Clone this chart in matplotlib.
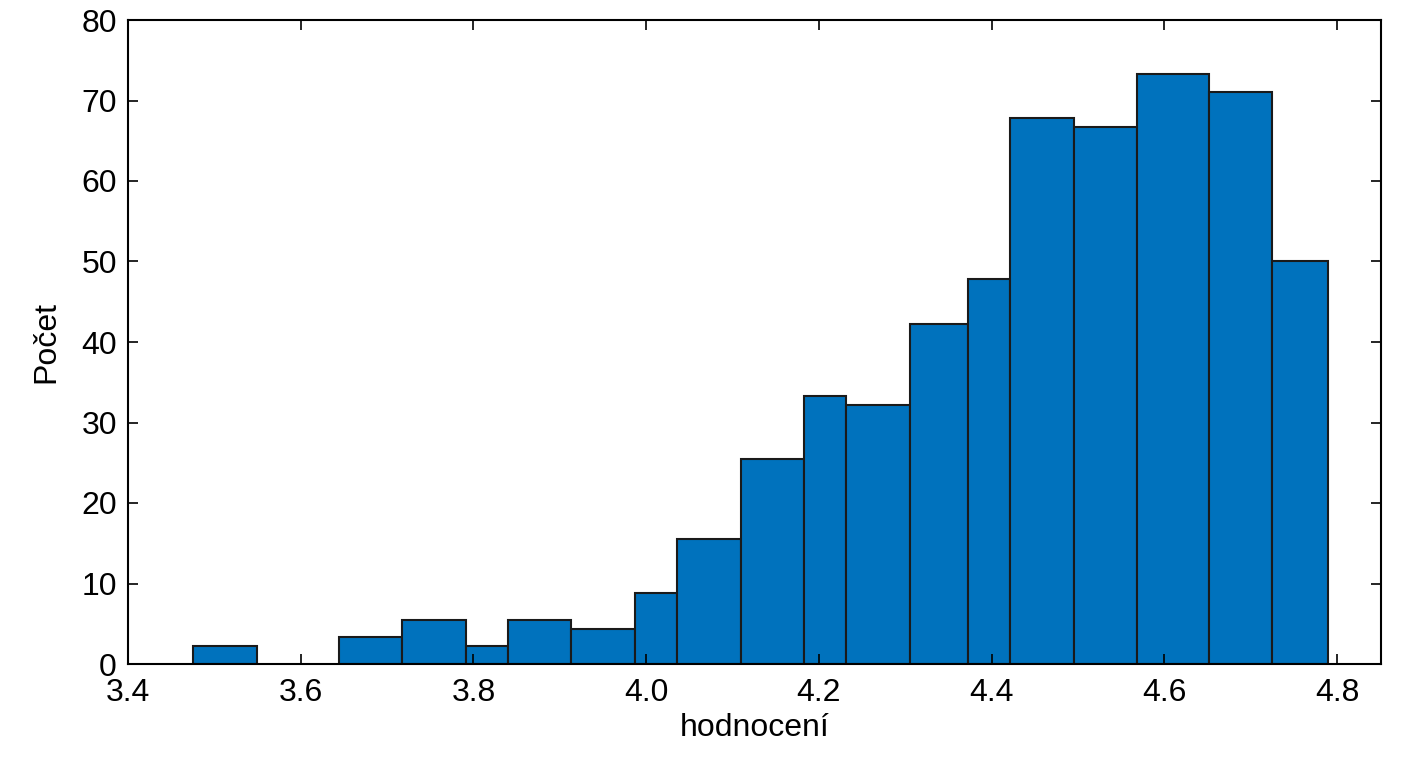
import matplotlib.pyplot as plt
import numpy as np

plt.rcParams['font.family'] = ['Liberation Sans', 'DejaVu Sans']

# bin edges (left, right) and counts
left_edges = [3.475, 3.644, 3.717, 3.791, 3.840, 3.913, 3.987, 4.036, 4.110, 4.183,
              4.232, 4.306, 4.373, 4.421, 4.495, 4.569, 4.652, 4.725]
right_edges = [3.549, 3.717, 3.791, 3.840, 3.913, 3.987, 4.036, 4.110, 4.183, 4.232,
               4.306, 4.373, 4.421, 4.495, 4.569, 4.652, 4.725, 4.790]
counts = [2.2, 3.3, 5.5, 2.2, 5.5, 4.4, 8.8, 15.5, 25.5, 33.3,
          32.2, 42.2, 47.8, 67.8, 66.7, 73.3, 71.1, 50.0]

fig = plt.figure(figsize=(14.08, 7.68), dpi=100)
ax = fig.add_axes([128 / 1408, 1 - 664 / 768, (1381 - 128) / 1408, (664 - 20) / 768])

widths = np.array(right_edges) - np.array(left_edges)
ax.bar(left_edges, counts, width=widths, align='edge', color='#0072bd',
       edgecolor='#1a1a1a', linewidth=1.5)

ax.set_xlim(3.405, 4.851)
ax.set_ylim(0, 80)
ax.set_xticks([3.4, 3.6, 3.8, 4.0, 4.2, 4.4, 4.6, 4.8])
ax.set_xticklabels(['3.4', '3.6', '3.8', '4.0', '4.2', '4.4', '4.6', '4.8'])
ax.set_yticks(range(0, 81, 10))
ax.tick_params(direction='in', top=True, right=True, labelsize=23, length=7, width=1.2)
ax.tick_params(axis='x', pad=10)
ax.tick_params(axis='y', pad=8)
for s in ax.spines.values():
    s.set_linewidth(1.5)
ax.set_xlabel('hodnocení', fontsize=23, labelpad=4)
ax.set_ylabel('Počet', fontsize=23, labelpad=14)

fig.savefig('out.png', dpi=100)
